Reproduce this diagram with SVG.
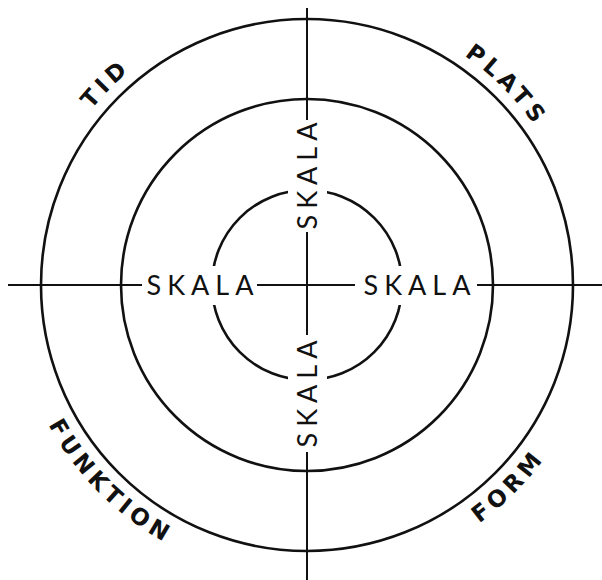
<svg xmlns="http://www.w3.org/2000/svg" xmlns:xlink="http://www.w3.org/1999/xlink" width="602" height="580" viewBox="0 0 602 580">
<style>
.ring{fill:none;stroke:#111;stroke-width:2.6}
.axis{stroke:#111;stroke-width:2;fill:none}
.knock{fill:#fff}
.skala{font-family:Lato,"Liberation Sans",sans-serif;font-size:27px;letter-spacing:6px;fill:#111;text-anchor:middle}
.outer{font-family:"DejaVu Sans","Liberation Sans",sans-serif;font-weight:bold;font-size:23px;letter-spacing:4.5px;fill:#111;text-anchor:middle}
</style>
<defs>
<path id="topArc" d="M 29 285 A 278 278 0 0 1 585 285"/>
<path id="botArc" d="M 13 285 A 294 294 0 0 0 601 285"/>
</defs>
<rect width="602" height="580" fill="#fff"/>
<g id="connectors">
<line class="axis" x1="8" y1="285" x2="602" y2="285"/>
<line class="axis" x1="307" y1="8" x2="307" y2="580"/>
</g>
<g id="rings">
<circle class="ring" cx="307" cy="285" r="266"/>
<circle class="ring" cx="307" cy="285" r="186"/>
<circle class="ring" cx="307" cy="285" r="95"/>
</g>
<g id="skala-left"><rect class="knock" x="142" y="266" width="115" height="39"/><text class="skala" x="203" y="295">SKALA</text></g>
<g id="skala-right"><rect class="knock" x="355" y="266" width="122" height="39"/><text class="skala" x="420" y="295">SKALA</text></g>
<g id="skala-top"><rect class="knock" x="288" y="120" width="39" height="112"/><text class="skala" transform="translate(317 173) rotate(-90)">SKALA</text></g>
<g id="skala-bottom"><rect class="knock" x="288" y="335" width="39" height="117"/><text class="skala" transform="translate(317 391) rotate(-90)">SKALA</text></g>
<g id="tid"><text class="outer"><textPath xlink:href="#topArc" href="#topArc" startOffset="25%">TID</textPath></text></g>
<g id="plats"><text class="outer"><textPath xlink:href="#topArc" href="#topArc" startOffset="75%">PLATS</textPath></text></g>
<g id="funktion"><text class="outer"><textPath xlink:href="#botArc" href="#botArc" startOffset="25%">FUNKTION</textPath></text></g>
<g id="form"><text class="outer"><textPath xlink:href="#botArc" href="#botArc" startOffset="75%">FORM</textPath></text></g>
</svg>
